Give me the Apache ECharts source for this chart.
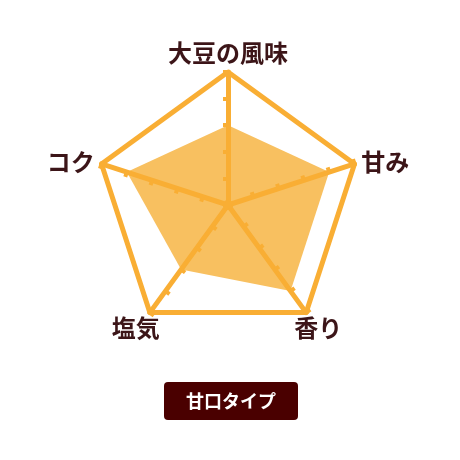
<!DOCTYPE html>
<html lang="ja">
  <head>
    <meta charset="UTF-8" />
    <title>甘口タイプ</title>
    <script src="https://cdn.jsdelivr.net/npm/echarts@6/dist/echarts.min.js"></script>
    <style>
      html, body { margin: 0; padding: 0; background: #fff; }
    </style>
  </head>
  <body>
    <div id="main" style="width: 460px; height: 460px"></div>
    <script>
      // 軸の名前と値（5段階）。ECharts のレーダーは反時計回りなので
      // 上 → 左 → 左下 → 右下 → 右 の順に並べる
      var axisNames = ["大豆の風味", "コク", "塩気", "香り", "甘み"];
      var axisMax = 5;
      var tasteValues = [3, 4, 3, 4, 4];
      var badgeText = "甘口タイプ";

      var lineColor = "#F9AE34";
      var fillColor = "#F8C060";
      var textColor = "#3C1518";

      var nameStyle = {
        color: textColor,
        fontSize: 24,
        fontWeight: "bold",
        fontFamily: "Noto Sans CJK JP",
      };

      var myChart = echarts.init(document.getElementById("main"));

      var option = {
        backgroundColor: "#fff",
        radar: {
          z: 3,
          center: [228, 205],
          radius: 133,
          startAngle: 90,
          splitNumber: 5,
          indicator: axisNames.map(function (n) {
            return { name: n, max: axisMax, min: 0 };
          }),
          axisName: Object.assign({}, nameStyle, {
            // 下の2つは頂点の真下寄りに置く
            formatter: function (name) {
              if (name === "塩気") return "{bl|" + name + "}";
              if (name === "香り") return "{br|" + name + "}";
              return name;
            },
            rich: {
              bl: Object.assign({}, nameStyle, { padding: [20, -14, 0, 0] }),
              br: Object.assign({}, nameStyle, { padding: [20, 0, 0, -16] }),
            },
          }),
          nameGap: 7,
          axisLine: {
            lineStyle: { color: lineColor, width: 5 },
          },
          axisTick: {
            show: true,
            length: 5,
            lineStyle: { color: lineColor, width: 4 },
          },
          splitLine: {
            lineStyle: {
              color: ["transparent", "transparent", "transparent", "transparent", "transparent", lineColor],
              width: 5,
              join: "round",
            },
          },
          splitArea: { show: false },
        },
        series: [
          {
            type: "radar",
            z: 1,
            symbol: "none",
            data: [
              {
                value: tasteValues,
                name: badgeText,
                lineStyle: { color: "#fff", width: 1, type: "dotted" },
                areaStyle: { color: fillColor, opacity: 1 },
              },
            ],
          },
        ],
        graphic: [
          {
            type: "group",
            left: 164,
            top: 382,
            children: [
              {
                type: "rect",
                shape: { x: 0, y: 0, width: 134, height: 38, r: 4 },
                style: { fill: "#4A0000" },
              },
              {
                type: "text",
                x: 67,
                y: 19,
                style: {
                  text: badgeText,
                  fill: "#fff",
                  fontSize: 18,
                  fontWeight: "bold",
                  fontFamily: "Noto Sans CJK JP",
                  align: "center",
                  verticalAlign: "middle",
                },
              },
            ],
          },
        ],
      };

      myChart.setOption(option);
    </script>
  </body>
</html>
